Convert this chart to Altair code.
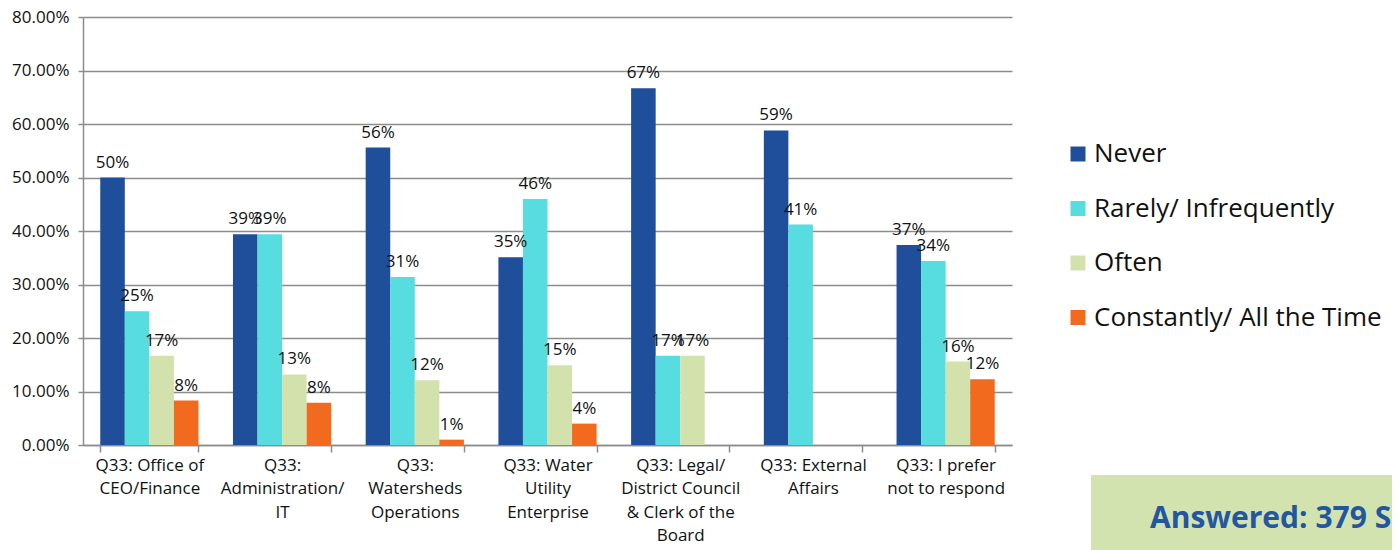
import altair as alt
import pandas as pd

categories = [
    "Q33: Office of|CEO/Finance",
    "Q33:|Administration/|IT",
    "Q33:|Watersheds|Operations",
    "Q33: Water|Utility|Enterprise",
    "Q33: Legal/|District Council|& Clerk of the|Board",
    "Q33: External|Affairs",
    "Q33: I prefer|not to respond",
]
series = ["Never", "Rarely/ Infrequently", "Often", "Constantly/ All the Time"]
colors = ["#1F4E9B", "#57DCE0", "#D3E2AC", "#F26A1E"]

never = [50.0, 39.4, 55.6, 35.1, 66.7, 58.8, 37.4]
rarely = [25.0, 39.4, 31.4, 46.0, 16.7, 41.2, 34.4]
often = [16.7, 13.2, 12.1, 14.9, 16.7, 0.0, 15.6]
constantly = [8.3, 7.9, 1.0, 4.0, 0.0, 0.0, 12.3]

y_ticks = [0, 10, 20, 30, 40, 50, 60, 70, 80]
note_text = ["Answered: 379 Skipped"]

FONT = "Open Sans"
GRAY = "#8c8c8c"

rows = []
for s, vals in zip(series, [never, rarely, often, constantly]):
    for c, v in zip(categories, vals):
        rows.append({"category": c, "series": s, "value": v})
df = pd.DataFrame(rows)

x_enc = alt.X(
    "category:N",
    sort=categories,
    scale=alt.Scale(paddingInner=0.26, paddingOuter=0.13),
    axis=alt.Axis(
        title=None,
        labelAngle=0,
        labelExpr="split(datum.label, '|')",
        labelFont=FONT,
        labelFontSize=17,
        labelLineHeight=23.5,
        labelColor="#111111",
        labelPadding=5,
        labelLimit=400,
        tickBand="extent",
        tickSize=7,
        tickColor=GRAY,
        tickWidth=1.5,
        domainColor=GRAY,
        domainWidth=1.5,
        grid=False,
    ),
)
xoff = alt.XOffset("series:N", sort=series, scale=alt.Scale(paddingInner=0, paddingOuter=0))
y_enc = alt.Y(
    "value:Q",
    scale=alt.Scale(domain=[0, 80], nice=False),
    axis=alt.Axis(
        title=None,
        values=y_ticks,
        labelExpr="format(datum.value, '.2f') + '%'",
        labelFont=FONT,
        labelFontSize=17,
        labelColor="#111111",
        labelPadding=9,
        tickSize=5,
        tickColor=GRAY,
        tickWidth=1.5,
        domainColor=GRAY,
        domainWidth=1.5,
        grid=True,
        gridColor=GRAY,
        gridWidth=1.5,
    ),
)

bars = alt.Chart(df).mark_bar().encode(
    x=x_enc,
    xOffset=xoff,
    y=y_enc,
    color=alt.Color(
        "series:N",
        scale=alt.Scale(domain=series, range=colors),
        legend=alt.Legend(
            title=None,
            orient="none",
            legendX=982,
            legendY=124,
            padding=0,
            symbolType="square",
            symbolSize=225,
            symbolStrokeWidth=0,
            symbolOpacity=1,
            labelFont=FONT,
            labelFontSize=26,
            labelColor="#111111",
            labelOffset=3,
            rowPadding=28.5,
            labelLimit=400,
        ),
    ),
)

labels = (
    alt.Chart(df)
    .transform_filter("datum.value > 0")
    .transform_calculate(lbl="format(datum.value, '.0f') + '%'")
    .mark_text(font=FONT, fontSize=17, color="#111111", baseline="alphabetic", dy=-10)
    .encode(x=alt.X("category:N", sort=categories), xOffset=alt.XOffset("series:N", sort=series), y="value:Q", text="lbl:N")
)

note_df = pd.DataFrame({"t": note_text})
box = alt.Chart(note_df).mark_rect(color="#D3E3B0").encode(
    x=alt.value(1008), x2=alt.value(1420), y=alt.value(458), y2=alt.value(600)
)
note = alt.Chart(note_df).mark_text(
    font=FONT, fontSize=30, fontWeight="bold", color="#2356A0", align="left", baseline="alphabetic"
).encode(x=alt.value(1067), y=alt.value(511), text="t:N")

chart = (
    alt.layer(bars, labels, box, note)
    .properties(
        width=929,
        height=428,
        autosize=alt.AutoSizeParams(type="none"),
        padding={"left": 75, "top": 9, "right": 380, "bottom": 105},
    )
    .configure_view(stroke=None)
)

chart.save("out.html", embed_options={"renderer": "svg", "actions": False})
